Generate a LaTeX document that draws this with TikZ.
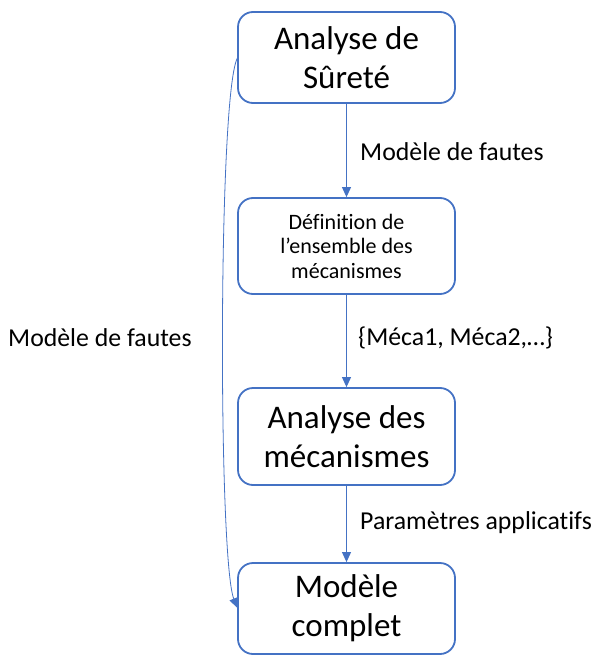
\documentclass[tikz,border=0pt]{standalone}
\usepackage{fontspec}
\setmainfont{Carlito}[Ligatures={NoCommon}]
\usetikzlibrary{arrows.meta}
\definecolor{lblue}{HTML}{4472C4}
\tikzset{
  box/.style={draw=lblue, line width=1.8pt, rounded corners=15pt, minimum width=217pt, align=center, fill=white, inner sep=2pt},
  big/.style={font=\fontsize{33}{39}\selectfont},
  small/.style={font=\fontsize{22}{24.5}\selectfont},
  lbl/.style={font=\fontsize{25.8}{30}\selectfont, anchor=west, inner sep=0pt},
  arr/.style={draw=lblue, line width=1pt, -{Triangle[length=10pt,width=9pt]}},
}
\begin{document}
\begin{tikzpicture}[x=1pt,y=-1pt]
\useasboundingbox (0,0) rectangle (595,655);
\node[box,big,minimum height=91pt] (a) at (346.5,57.5) {Analyse de\\Sûreté};
\node[box,small,minimum height=96pt] (b) at (346.5,246) {Définition de\\l’ensemble des\\mécanismes};
\node[box,big,minimum height=97pt] (c) at (346.5,436.5) {Analyse des\\mécanismes};
\node[box,big,minimum height=91pt] (d) at (346.5,608.5) {Modèle\\complet};
\draw[arr] (a) -- (b);
\draw[arr] (b) -- (c);
\draw[arr] (c) -- (d);
\node[lbl] (l1) at (360,152) {Modèle de fautes};
\node[lbl] (l2) at (358,338) {\{Méca1, Méca2,…\}};
\node[lbl] (l3) at (360,523) {Paramètres applicatifs};
\node[lbl] (l4) at (8,338) {Modèle de fautes};
\coordinate (s) at (238,57);
\coordinate (e) at (237.5,608);
\draw[draw=lblue, line width=0.8pt, -{Triangle[length=10pt,width=9pt]}] (s) .. controls (218,85) and (218,560) .. (e);
\end{tikzpicture}
\end{document}
